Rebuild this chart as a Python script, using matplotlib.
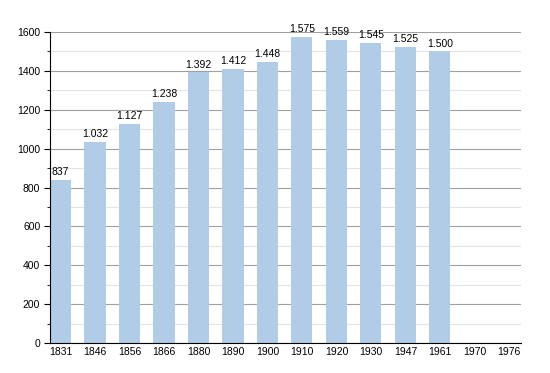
import matplotlib

matplotlib.use("Agg")
import matplotlib.pyplot as plt
from matplotlib.ticker import MultipleLocator

years = ["1831", "1846", "1856", "1866", "1880", "1890", "1900",
         "1910", "1920", "1930", "1947", "1961", "1970", "1976"]
population = [837, 1032, 1127, 1238, 1392, 1412, 1448,
              1575, 1559, 1545, 1525, 1500, None, None]

plt.rcParams["font.family"] = ["Liberation Sans", "DejaVu Sans"]
plt.rcParams["font.size"] = 7.5

fig = plt.figure(figsize=(5.5, 3.73), dpi=100)
ax = fig.add_axes([50 / 550, 30 / 373, 471 / 550, 311 / 373])

xs = range(len(years))
for x, v in zip(xs, population):
    if v is None:
        continue
    ax.bar(x, v, width=0.61, color="#b0cce6", zorder=2)
    label = f"{v:,}".replace(",", ".")
    ax.text(x, v + 15, label, ha="center", va="bottom", fontsize=7.5, zorder=3)

ax.set_xlim(-0.305, 13.35)
ax.set_ylim(0, 1600)
ax.set_xticks(list(xs))
ax.set_xticklabels(years)
ax.yaxis.set_major_locator(MultipleLocator(200))
ax.yaxis.set_minor_locator(MultipleLocator(100))
ax.grid(True, which="major", axis="y", color="#a0a0a0", lw=0.8, zorder=0)
ax.grid(True, which="minor", axis="y", color="#e4e4e4", lw=0.8, zorder=0)
ax.tick_params(axis="x", length=0, pad=3)
ax.tick_params(axis="y", which="major", length=4, pad=3)
ax.tick_params(axis="y", which="minor", length=2)
for s in ("top", "right"):
    ax.spines[s].set_visible(False)
ax.spines["left"].set_color("black")
ax.spines["bottom"].set_color("black")

fig.savefig("out.png", dpi=100)
